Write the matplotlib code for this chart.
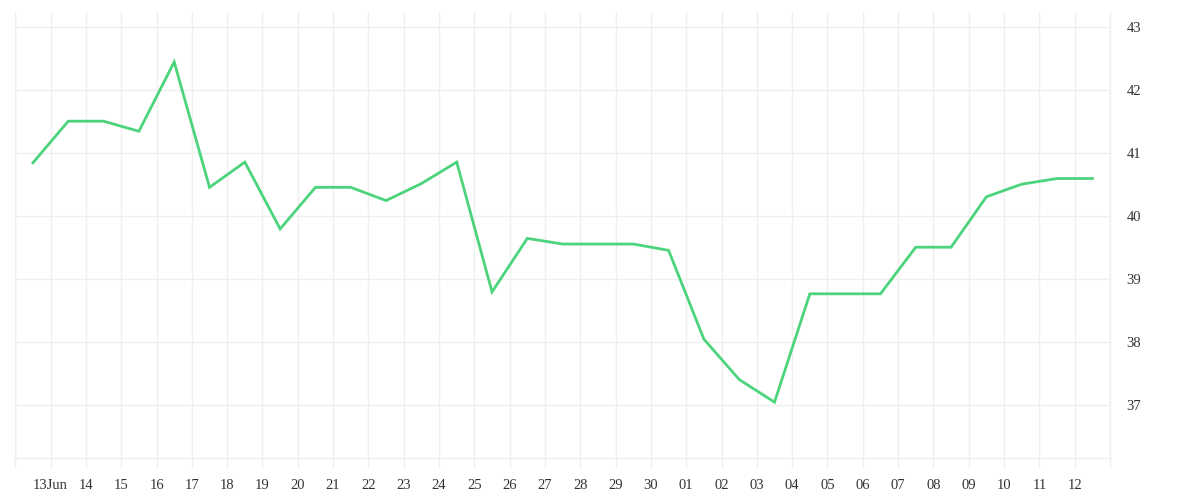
import numpy as np
import matplotlib
matplotlib.use("Agg")
import matplotlib.pyplot as plt

# daily values
values = [40.85, 41.51, 41.51, 41.35, 42.45, 40.46, 40.86, 39.80, 40.46, 40.46,
          40.25, 40.52, 40.86, 38.80, 39.65, 39.56, 39.56, 39.56, 39.46, 38.05,
          37.41, 37.05, 38.77, 38.77, 38.77, 39.51, 39.51, 40.31, 40.51, 40.60,
          40.60]
day_labels = ['13Jun', '14', '15', '16', '17', '18', '19', '20', '21', '22',
              '23', '24', '25', '26', '27', '28', '29', '30', '01', '02',
              '03', '04', '05', '06', '07', '08', '09', '10', '11', '12']
y_ticks = [37, 38, 39, 40, 41, 42, 43]

grid_col = '#efefef'
text_col = '#333333'
line_col = '#4cd47c'

plt.rcParams['font.family'] = ['Liberation Serif', 'DejaVu Serif']

fig = plt.figure(figsize=(12, 5), dpi=100)
ax = fig.add_axes([0.01275, 0.084, 0.925 - 0.01275, 0.976 - 0.084])

x = np.arange(len(values))
ax.plot(x, values, color=line_col, lw=2, solid_joinstyle='miter', zorder=3)

# ticks sit between points, one per day, with blank ones at the edges
xt = np.arange(-0.5, len(values), 1.0)
ax.set_xticks(xt)
ax.set_xticklabels([''] + day_labels + [''])
ax.set_xlim(-0.5, len(values) - 0.5)

ax.yaxis.tick_right()
ax.set_yticks(y_ticks)
ax.set_ylim(36.164, 43.243)

ax.grid(True, color=grid_col, lw=1, zorder=0)
ax.tick_params(axis='x', length=7.2, width=1, color=grid_col, pad=8,
               labelsize=10.5, labelcolor=text_col)
ax.tick_params(axis='y', length=0, pad=12, labelsize=10.5, labelcolor=text_col)

ax.spines['top'].set_visible(False)
for s in ['left', 'right', 'bottom']:
    ax.spines[s].set_color(grid_col)
    ax.spines[s].set_linewidth(1)

fig.savefig('out.png', dpi=100)
